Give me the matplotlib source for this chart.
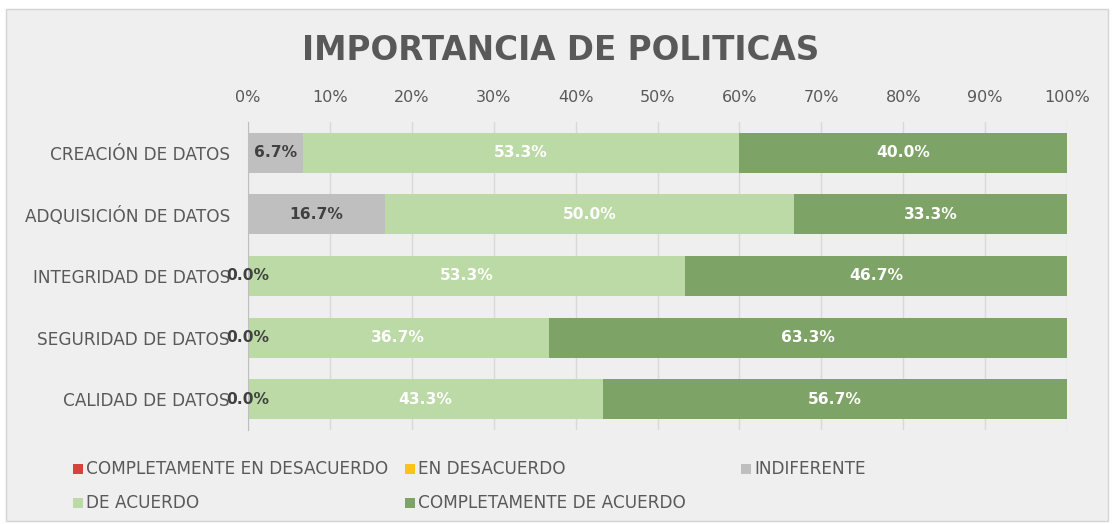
import matplotlib
matplotlib.use("Agg")
import matplotlib.pyplot as plt
from matplotlib.patches import Rectangle
import numpy as np

categories = ["CREACIÓN DE DATOS", "ADQUISICIÓN DE DATOS", "INTEGRIDAD DE DATOS",
              "SEGURIDAD DE DATOS", "CALIDAD DE DATOS"]
series_names = ["COMPLETAMENTE EN DESACUERDO", "EN DESACUERDO", "INDIFERENTE",
                "DE ACUERDO", "COMPLETAMENTE DE ACUERDO"]
comp_desacuerdo = [0.0, 0.0, 0.0, 0.0, 0.0]
desacuerdo = [0.0, 0.0, 0.0, 0.0, 0.0]
indiferente = [6.7, 16.7, 0.0, 0.0, 0.0]
de_acuerdo = [53.3, 50.0, 53.3, 36.7, 43.3]
comp_acuerdo = [40.0, 33.3, 46.7, 63.3, 56.7]
tick_values = [0, 10, 20, 30, 40, 50, 60, 70, 80, 90, 100]
tick_labels = ["0%", "10%", "20%", "30%", "40%", "50%", "60%", "70%", "80%", "90%", "100%"]

colors = ["#d9413c", "#ffc21a", "#bfbfbf", "#bcdaa6", "#7ea366"]
label_colors = [None, None, "#404040", "white", "white"]

FONT = "DejaVu Sans"
TXT = "#595959"

W, H = 1113, 524
fig = plt.figure(figsize=(W / 100, H / 100), dpi=100)
fig.patch.set_facecolor("white")
fig.patches.append(Rectangle((6 / W, 1 - 521 / H), (1108 - 6) / W, (521 - 9) / H,
                             transform=fig.transFigure, facecolor="#efefef",
                             edgecolor="#d4d4d4", lw=1, zorder=-10))

ax = fig.add_axes([248 / W, 1 - 430 / H, (1067 - 248) / W, (430 - 122) / H])
ax.set_facecolor("none")

y = np.arange(len(categories))
data = [comp_desacuerdo, desacuerdo, indiferente, de_acuerdo, comp_acuerdo]
left = np.zeros(len(categories))
for i, vals in enumerate(data):
    vals = np.array(vals)
    ax.barh(y, vals, left=left, height=0.65, color=colors[i], zorder=3)
    if label_colors[i] is not None:
        for j, v in enumerate(vals):
            ax.text(left[j] + v / 2, y[j], f"{v:.1f}%", ha="center", va="center",
                    color=label_colors[i], fontsize=11.2, fontweight="bold",
                    family=FONT, zorder=5)
    left = left + vals

ax.set_xlim(0, 100)
ax.set_ylim(len(categories) - 0.5, -0.5)
ax.set_xticks(tick_values)
ax.set_xticklabels(tick_labels)
ax.set_yticks(y)
ax.set_yticklabels(categories)
ax.xaxis.tick_top()
ax.tick_params(axis="x", length=0, pad=12, labelsize=11.5, labelcolor=TXT)
ax.tick_params(axis="y", length=0, pad=13, labelsize=12.2, labelcolor=TXT)
for lab in ax.get_xticklabels() + ax.get_yticklabels():
    lab.set_family(FONT)
ax.grid(axis="x", color="#d9d9d9", lw=1, zorder=0)
for s in ["top", "right", "bottom"]:
    ax.spines[s].set_visible(False)
ax.spines["left"].set_color("#bfbfbf")
ax.spines["left"].set_zorder(4)

fig.text(561 / W, 1 - 50 / H, "IMPORTANCIA DE POLITICAS", ha="center", va="center",
         fontsize=23.5, fontweight="bold", color=TXT, family=FONT)

# legend
legend_pos = [(73, 469), (405, 469), (741, 469), (73, 503), (405, 503)]
for (px, py), name, c in zip(legend_pos, series_names, colors):
    fig.patches.append(Rectangle((px / W, 1 - (py + 5) / H), 10 / W, 10 / H,
                                 transform=fig.transFigure, facecolor=c, edgecolor="none"))
    fig.text((px + 13) / W, 1 - py / H, name, ha="left", va="center", fontsize=12.2,
             color=TXT, family=FONT)

fig.savefig("out.png", dpi=100)
